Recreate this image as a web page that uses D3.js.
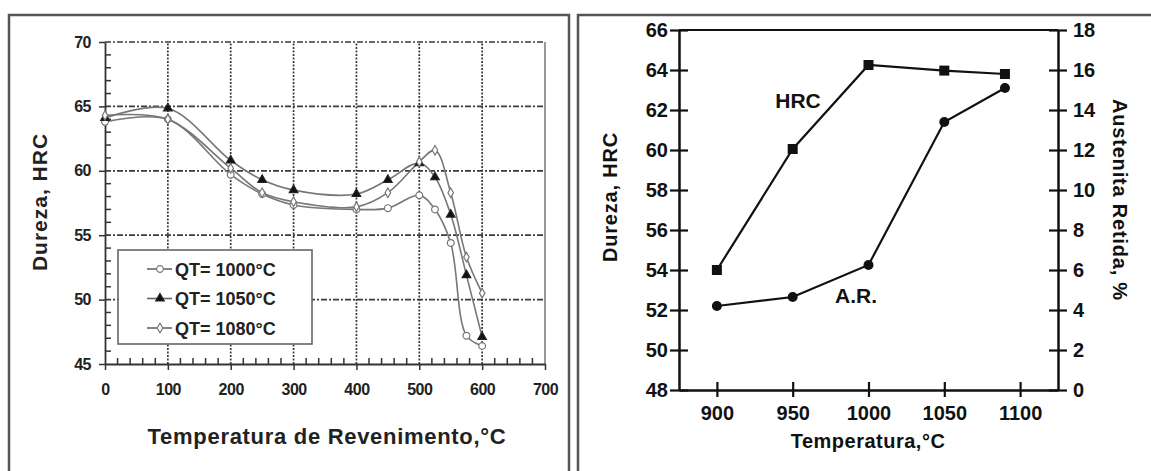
<!DOCTYPE html>
<html>
<head>
<meta charset="utf-8">
<script src="https://cdn.jsdelivr.net/npm/d3@7"></script>
<style>
  body { margin: 0; background: #fff; }
  text { font-family: Arial, "Liberation Sans", sans-serif; font-weight: bold; }
</style>
</head>
<body>
<div id="chart"></div>
<script>
// ---- left chart: tempering curves ----
const temperTemps = [0, 100, 200, 250, 300, 400, 450, 500, 525, 550, 575, 600];
const hrc1000 = [63.8, 64.0, 59.7, 58.2, 57.35, 57.0, 57.1, 58.1, 57.0, 54.4, 47.2, 46.4];
const hrc1050 = [64.1, 64.85, 60.8, 59.3, 58.5, 58.2, 59.3, 60.6, 59.5, 56.6, 51.9, 47.1];
const hrc1080 = [64.3, 64.0, 60.2, 58.3, 57.6, 57.2, 58.3, 60.7, 61.6, 58.3, 53.3, 50.5];
const seriesNames = ["QT= 1000\u00b0C", "QT= 1050\u00b0C", "QT= 1080\u00b0C"];
const leftXTicks = [0, 100, 200, 300, 400, 500, 600, 700];
const leftYTicks = [45, 50, 55, 60, 65, 70];

// ---- right chart: austenitizing temperature ----
const austTemps = [900, 950, 1000, 1050, 1090];
const hrcAust = [54.0, 60.05, 64.25, 63.97, 63.8];
const retained = [4.2, 4.65, 6.25, 13.4, 15.1];
const rightXTicks = [900, 950, 1000, 1050, 1100];
const hrcTicks = [48, 50, 52, 54, 56, 58, 60, 62, 64, 66];
const arTicks = [0, 2, 4, 6, 8, 10, 12, 14, 16, 18];

const W = 1151, H = 471;
const svg = d3.select("#chart").append("svg")
  .attr("width", W).attr("height", H);

// panel frames
svg.append("path")
  .attr("d", "M9,471 V15 H569 V471")
  .attr("fill", "none").attr("stroke", "#555").attr("stroke-width", 2.5);
svg.append("path")
  .attr("d", "M578,471 V15 H1151")
  .attr("fill", "none").attr("stroke", "#555").attr("stroke-width", 2.5);

// ================= LEFT =================
const xL = d3.scaleLinear().domain([0, 700]).range([105, 545]);
const yL = d3.scaleLinear().domain([45, 70]).range([364, 42]);
const gL = svg.append("g");

// grid
gL.append("g").selectAll("line").data(leftYTicks.slice(1))
  .enter().append("line")
  .attr("x1", xL(0)).attr("x2", xL(700))
  .attr("y1", d => yL(d)).attr("y2", d => yL(d))
  .attr("stroke", "#3a3a3a").attr("stroke-width", 1.7)
  .attr("stroke-dasharray", "6,2,2,2");
gL.append("g").selectAll("line").data(leftXTicks.slice(1, -1))
  .enter().append("line")
  .attr("x1", d => xL(d)).attr("x2", d => xL(d))
  .attr("y1", yL(45)).attr("y2", yL(70))
  .attr("stroke", "#3a3a3a").attr("stroke-width", 1.7)
  .attr("stroke-dasharray", "2,1.5");
gL.append("line")
  .attr("x1", xL(700)).attr("x2", xL(700))
  .attr("y1", yL(45)).attr("y2", yL(70))
  .attr("stroke", "#999").attr("stroke-width", 2);

// minor ticks, pointing into the plot
const minorX = d3.range(20, 700, 20).filter(v => v % 100 !== 0);
const minorY = d3.range(46, 70, 1).filter(v => v % 5 !== 0);
gL.append("g").selectAll("line").data(minorX).enter().append("line")
  .attr("x1", d => xL(d)).attr("x2", d => xL(d))
  .attr("y1", yL(45)).attr("y2", yL(45) - 6)
  .attr("stroke", "#333").attr("stroke-width", 1.5);
gL.append("g").selectAll("line").data(minorY).enter().append("line")
  .attr("x1", xL(0)).attr("x2", xL(0) + 6)
  .attr("y1", d => yL(d)).attr("y2", d => yL(d))
  .attr("stroke", "#333").attr("stroke-width", 1.5);

// major axes
gL.append("g").attr("transform", `translate(0,${yL(45)})`)
  .call(d3.axisBottom(xL).tickValues(leftXTicks).tickSize(6).tickPadding(14).tickSizeOuter(0))
  .call(g => g.select(".domain").attr("stroke-width", 1.8).attr("stroke", "#333"))
  .call(g => g.selectAll(".tick line").attr("stroke", "#333").attr("stroke-width", 1.5))
  .call(g => g.selectAll(".tick text").attr("font-size", 16).attr("fill", "#222")
    .attr("letter-spacing", -0.5));
gL.append("g").attr("transform", `translate(${xL(0)},0)`)
  .call(d3.axisLeft(yL).tickValues(leftYTicks).tickSize(6).tickPadding(8).tickSizeOuter(0))
  .call(g => g.select(".domain").attr("stroke-width", 1.8).attr("stroke", "#333"))
  .call(g => g.selectAll(".tick line").attr("stroke", "#333").attr("stroke-width", 1.5))
  .call(g => g.selectAll(".tick text").attr("font-size", 16).attr("fill", "#222")
    .attr("letter-spacing", -0.5));

// curves
const leftSeries = [hrc1000, hrc1050, hrc1080];
const lineL = d3.line()
  .x((d, i) => xL(temperTemps[i]))
  .y(d => yL(d))
  .curve(d3.curveCatmullRom.alpha(0.5));
gL.append("g").selectAll("path").data(leftSeries)
  .enter().append("path")
  .attr("d", d => lineL(d))
  .attr("fill", "none").attr("stroke", "#777").attr("stroke-width", 1.6);

const sym = [
  d3.symbol().type(d3.symbolCircle).size(36),
  d3.symbol().type(d3.symbolTriangle).size(32),
  d3.symbol().type(d3.symbolDiamond).size(26)
];
const symFill = ["#fff", "#111", "#fff"];
const symStroke = ["#777", "#222", "#777"];
leftSeries.forEach((s, k) => {
  gL.append("g").selectAll("path").data(s)
    .enter().append("path")
    .attr("transform", (d, i) => `translate(${xL(temperTemps[i])},${yL(d)})`)
    .attr("d", sym[k]())
    .attr("fill", symFill[k]).attr("stroke", symStroke[k]).attr("stroke-width", 1.2);
});

// legend
const lg = gL.append("g");
lg.append("rect").attr("x", 118).attr("y", 250).attr("width", 194).attr("height", 94)
  .attr("fill", "#fff").attr("stroke", "#666").attr("stroke-width", 1.6);
seriesNames.forEach((name, k) => {
  const yy = 269 + k * 29.5;
  lg.append("line").attr("x1", 147).attr("x2", 172).attr("y1", yy).attr("y2", yy)
    .attr("stroke", "#666").attr("stroke-width", 1.6);
  lg.append("path").attr("transform", `translate(160,${yy})`).attr("d", sym[k]())
    .attr("fill", symFill[k]).attr("stroke", symStroke[k]).attr("stroke-width", 1.2);
  lg.append("text").attr("x", 175).attr("y", yy + 6.5).attr("font-size", 18)
    .attr("fill", "#222").text(name);
});

// titles
gL.append("text").attr("x", 327).attr("y", 444).attr("text-anchor", "middle")
  .attr("font-size", 22).attr("letter-spacing", 0.7).attr("fill", "#222")
  .text("Temperatura de Revenimento,\u00b0C");
gL.append("text").attr("transform", "translate(47,202) rotate(-90)")
  .attr("text-anchor", "middle").attr("font-size", 21).attr("letter-spacing", 1)
  .attr("fill", "#222").text("Dureza, HRC");

// ================= RIGHT =================
const xR = d3.scaleLinear().domain([875, 1125]).range([679, 1058]);
const yR = d3.scaleLinear().domain([48, 66]).range([390, 30]);
const yR2 = d3.scaleLinear().domain([0, 18]).range([390, 30]);
const gR = svg.append("g");

gR.append("line").attr("x1", xR(875)).attr("x2", xR(1125))
  .attr("y1", yR(66)).attr("y2", yR(66)).attr("stroke", "#111").attr("stroke-width", 2.2);

function crossTicks(g) {
  g.selectAll(".tick line").attr("stroke", "#111").attr("stroke-width", 2.2);
  g.select(".domain").attr("stroke", "#111").attr("stroke-width", 2.5);
  g.selectAll(".tick text").attr("font-size", 20).attr("fill", "#111");
}
// x axis
gR.append("g").attr("transform", `translate(0,${yR(48)})`)
  .call(d3.axisTop(xR).tickValues(rightXTicks).tickSize(8).tickFormat(""))
  .call(g => g.select(".domain").remove())
  .call(crossTicks);
gR.append("g").attr("transform", `translate(0,${yR(48)})`)
  .call(d3.axisBottom(xR).tickValues(rightXTicks).tickSize(7).tickPadding(9)
    .tickSizeOuter(0).tickFormat(d3.format("d")))
  .call(crossTicks);
// left axis
gR.append("g").attr("transform", `translate(${xR(875)},0)`)
  .call(d3.axisRight(yR).tickValues(hrcTicks).tickSize(9).tickFormat(""))
  .call(g => g.select(".domain").remove())
  .call(crossTicks);
gR.append("g").attr("transform", `translate(${xR(875)},0)`)
  .call(d3.axisLeft(yR).tickValues(hrcTicks).tickSize(9).tickPadding(2).tickSizeOuter(0))
  .call(crossTicks);
// right axis
gR.append("g").attr("transform", `translate(${xR(1125)},0)`)
  .call(d3.axisLeft(yR2).tickValues(arTicks).tickSize(9).tickFormat(""))
  .call(g => g.select(".domain").remove())
  .call(crossTicks);
gR.append("g").attr("transform", `translate(${xR(1125)},0)`)
  .call(d3.axisRight(yR2).tickValues(arTicks).tickSize(9).tickPadding(6).tickSizeOuter(0))
  .call(crossTicks);

// lines
const lineHRC = d3.line().x((d, i) => xR(austTemps[i])).y(d => yR(d));
const lineAR = d3.line().x((d, i) => xR(austTemps[i])).y(d => yR2(d));
gR.append("path").attr("d", lineHRC(hrcAust))
  .attr("fill", "none").attr("stroke", "#111").attr("stroke-width", 2.2);
gR.append("path").attr("d", lineAR(retained))
  .attr("fill", "none").attr("stroke", "#111").attr("stroke-width", 2.2);
gR.append("g").selectAll("rect").data(hrcAust).enter().append("rect")
  .attr("x", (d, i) => xR(austTemps[i]) - 5).attr("y", d => yR(d) - 5)
  .attr("width", 10).attr("height", 10).attr("fill", "#111");
gR.append("g").selectAll("circle").data(retained).enter().append("circle")
  .attr("cx", (d, i) => xR(austTemps[i])).attr("cy", d => yR2(d))
  .attr("r", 5).attr("fill", "#111");

// labels
gR.append("text").attr("x", 798).attr("y", 108).attr("text-anchor", "middle")
  .attr("font-size", 21).attr("fill", "#111").text("HRC");
gR.append("text").attr("x", 856).attr("y", 303).attr("text-anchor", "middle")
  .attr("font-size", 21).attr("fill", "#111").text("A.R.");
gR.append("text").attr("x", 868).attr("y", 448).attr("text-anchor", "middle")
  .attr("font-size", 20).attr("letter-spacing", 0.5).attr("fill", "#111")
  .text("Temperatura,\u00b0C");
gR.append("text").attr("transform", "translate(617,197) rotate(-90)")
  .attr("text-anchor", "middle").attr("font-size", 20).attr("letter-spacing", 0.8)
  .attr("fill", "#111").text("Dureza, HRC");
gR.append("text").attr("transform", "translate(1113,200) rotate(90)")
  .attr("text-anchor", "middle").attr("font-size", 20).attr("letter-spacing", 0.8)
  .attr("fill", "#111").text("Austenita Retida, %");
</script>
</body>
</html>
